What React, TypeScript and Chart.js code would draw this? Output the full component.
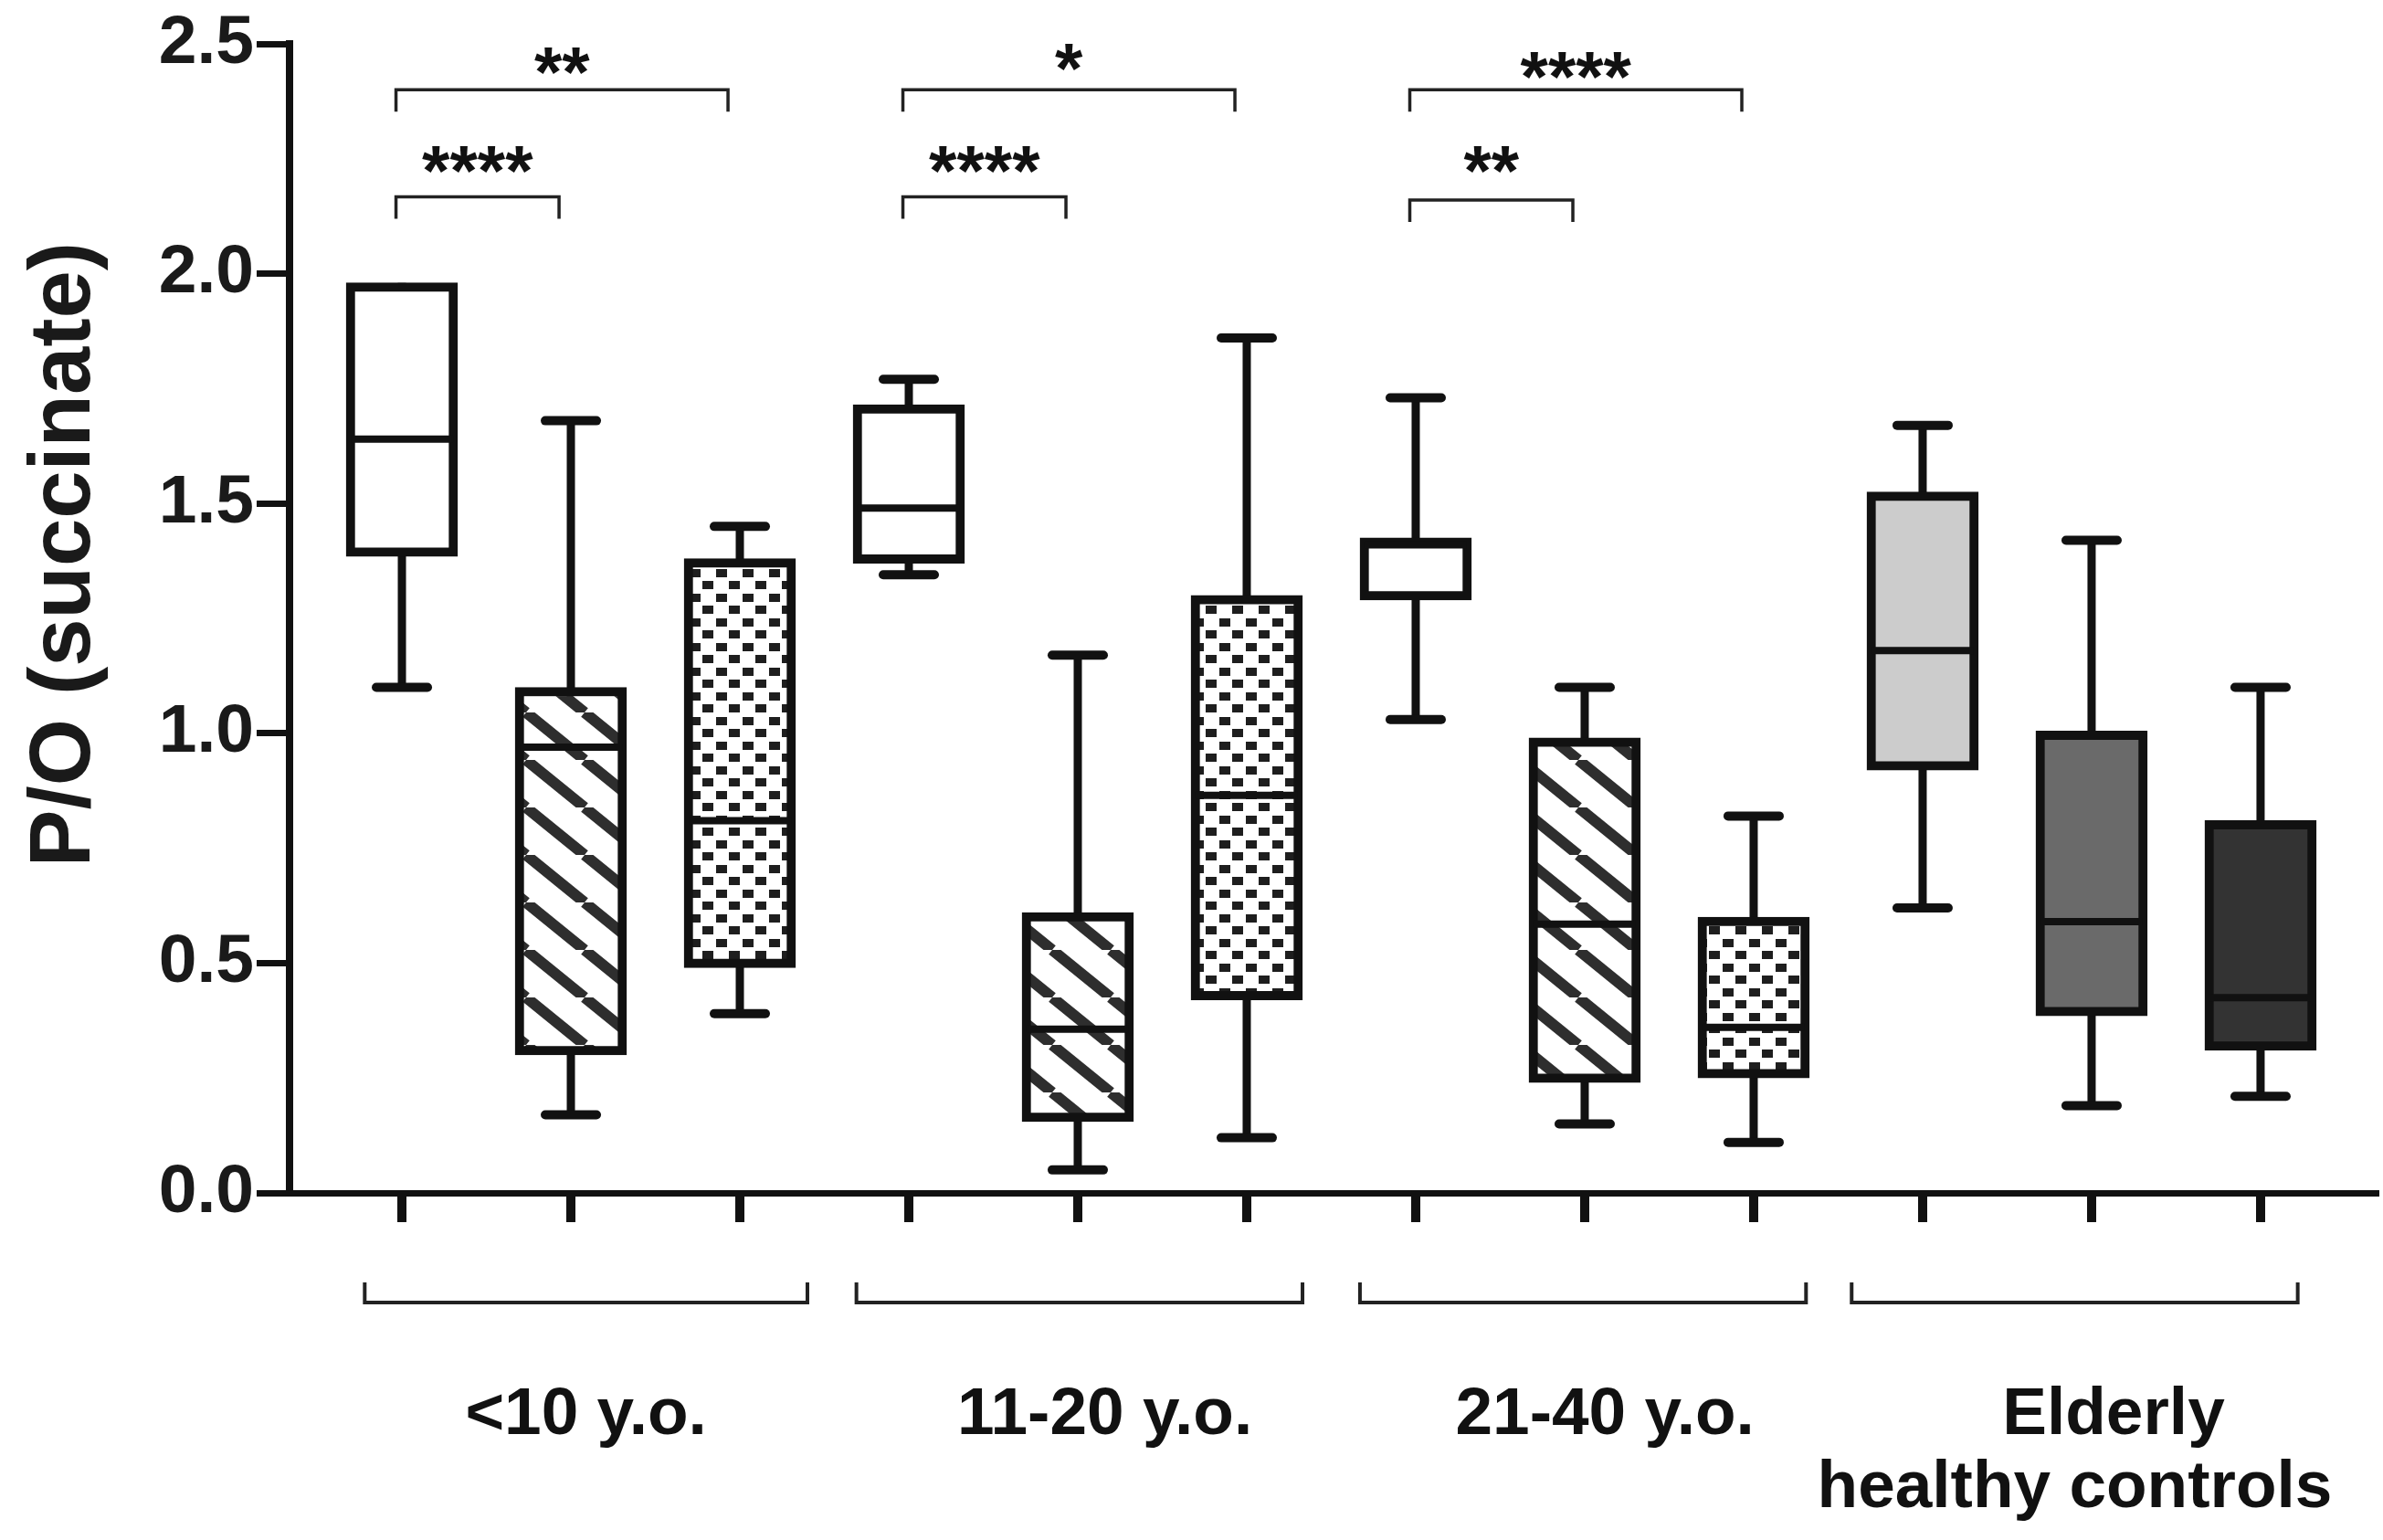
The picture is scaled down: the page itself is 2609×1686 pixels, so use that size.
import React, { useEffect, useRef } from 'react';
import { Chart, registerables } from 'chart.js';

Chart.register(...registerables);

// ---- data ----
const boxIndex = [0, 1, 2, 3, 4, 5, 6, 7, 8, 9, 10, 11];
const mins = [1.10, 0.17, 0.39, 1.345, 0.05, 0.12, 1.03, 0.15, 0.11, 0.62, 0.19, 0.21];
const q1s = [1.385, 0.30, 0.49, 1.37, 0.155, 0.42, 1.29, 0.24, 0.25, 0.92, 0.385, 0.31];
const medians = [1.64, 0.97, 0.81, 1.49, 0.356, 0.865, 1.41, 0.585, 0.36, 1.18, 0.59, 0.425];
const q3s = [1.98, 1.10, 1.38, 1.715, 0.61, 1.30, 1.425, 0.99, 0.60, 1.525, 1.005, 0.81];
const maxs = [1.98, 1.68, 1.45, 1.77, 1.17, 1.86, 1.73, 1.10, 0.82, 1.67, 1.42, 1.10];
const fillKinds = ['white', 'stripe', 'checker', 'white', 'stripe', 'checker', 'white', 'stripe', 'checker', '#cccccc', '#6a6a6a', '#333333'];

const yTickValues = [0, 0.5, 1.0, 1.5, 2.0, 2.5];
const yTitle = 'P/O (succinate)';

// significance brackets
const sigFrom = [0, 0, 3, 3, 6, 6];
const sigTo = [2, 1, 5, 4, 8, 7];
const sigLevel = [2.40, 2.167, 2.40, 2.167, 2.40, 2.16];
const sigTextLevel = [2.462, 2.247, 2.47, 2.247, 2.452, 2.247];
const sigLabels = ['**', '****', '*', '****', '****', '**'];

// group brackets (in box-index units) and labels
const groupFrom = [-0.22, 2.69, 5.67, 8.58];
const groupTo = [2.40, 5.33, 8.31, 11.22];
const groupLabelLines = [['<10 y.o.'], ['11-20 y.o.'], ['21-40 y.o.'], ['Elderly', 'healthy controls']];
const groupLabelCenters = [[1.09], [4.16], [7.12], [10.13, 9.9]];

const FONT = "'Liberation Sans', Arial, Helvetica, sans-serif";

function makeStripe(): CanvasPattern | string {
  const w = 64, h = 52;
  const c = document.createElement('canvas');
  c.width = w; c.height = h;
  const g = c.getContext('2d');
  if (!g) return '#fff';
  g.fillStyle = '#fff';
  g.fillRect(0, 0, w, h);
  g.strokeStyle = '#2e2e2e';
  g.lineWidth = 12;
  for (let k = -1; k <= 1; k++) {
    g.beginPath();
    g.moveTo(k * w, 0);
    g.lineTo((k + 1) * w, h);
    g.stroke();
  }
  const p = g.createPattern(c, 'repeat');
  return p || '#fff';
}

function makeChecker(): CanvasPattern | string {
  const w = 29, h = 27;
  const c = document.createElement('canvas');
  c.width = w; c.height = h;
  const g = c.getContext('2d');
  if (!g) return '#fff';
  g.fillStyle = '#fff';
  g.fillRect(0, 0, w, h);
  g.fillStyle = '#1e1e1e';
  g.fillRect(1, 2, 12, 9);
  g.fillRect(15, 15, 12, 9);
  const p = g.createPattern(c, 'repeat');
  return p || '#fff';
}

export default function App() {
  const ref = useRef<HTMLCanvasElement | null>(null);

  useEffect(() => {
    const canvas = ref.current;
    if (!canvas) return;
    const stripe = makeStripe();
    const checker = makeChecker();
    const bg = fillKinds.map((k) => (k === 'stripe' ? stripe : k === 'checker' ? checker : k));

    const boxPlugin = {
      id: 'boxExtras',
      beforeDatasetsDraw(chart: any) {
        const { ctx } = chart;
        const xs = chart.scales.x;
        const ys = chart.scales.y;
        ctx.save();
        ctx.strokeStyle = '#111';
        boxIndex.forEach((i) => {
          const x = xs.getPixelForValue(i);
          ctx.lineWidth = 9;
          ctx.lineCap = 'butt';
          ctx.beginPath();
          ctx.moveTo(x, ys.getPixelForValue(mins[i]));
          ctx.lineTo(x, ys.getPixelForValue(maxs[i]));
          ctx.stroke();
          ctx.lineCap = 'round';
          ctx.lineWidth = 10;
          const caps: number[] = [];
          if (q1s[i] - mins[i] > 0.01) caps.push(mins[i]);
          if (maxs[i] - q3s[i] > 0.01) caps.push(maxs[i]);
          caps.forEach((v) => {
            const y = ys.getPixelForValue(v);
            ctx.beginPath();
            ctx.moveTo(x - 28, y);
            ctx.lineTo(x + 28, y);
            ctx.stroke();
          });
        });
        ctx.restore();
      },
      afterDatasetsDraw(chart: any) {
        const { ctx } = chart;
        const xs = chart.scales.x;
        const ys = chart.scales.y;
        ctx.save();
        ctx.strokeStyle = '#111';
        ctx.lineWidth = 8;
        boxIndex.forEach((i) => {
          const x = xs.getPixelForValue(i);
          const y = ys.getPixelForValue(medians[i]);
          ctx.beginPath();
          ctx.moveTo(x - 56, y);
          ctx.lineTo(x + 56, y);
          ctx.stroke();
        });
        ctx.restore();
      },
      afterDraw(chart: any) {
        const { ctx } = chart;
        const xs = chart.scales.x;
        const ys = chart.scales.y;
        ctx.save();
        // significance brackets
        ctx.strokeStyle = '#222';
        ctx.lineWidth = 3.5;
        ctx.fillStyle = '#111';
        ctx.font = `bold 78px ${FONT}`;
        ctx.textAlign = 'center';
        ctx.textBaseline = 'alphabetic';
        sigFrom.forEach((f, k) => {
          const x1 = xs.getPixelForValue(f - 0.035);
          const x2 = xs.getPixelForValue(sigTo[k] - 0.07);
          const y = ys.getPixelForValue(sigLevel[k]);
          ctx.beginPath();
          ctx.moveTo(x1, y + 24);
          ctx.lineTo(x1, y);
          ctx.lineTo(x2, y);
          ctx.lineTo(x2, y + 24);
          ctx.stroke();
          const m = ctx.measureText(sigLabels[k]);
          const cy = ys.getPixelForValue(sigTextLevel[k]);
          const base = cy + (m.actualBoundingBoxAscent - m.actualBoundingBoxDescent) / 2;
          ctx.fillText(sigLabels[k], (x1 + x2) / 2, base);
        });
        // group brackets
        const gy = 1426;
        ctx.lineWidth = 4;
        ctx.strokeStyle = '#222';
        groupFrom.forEach((f, k) => {
          const x1 = xs.getPixelForValue(f);
          const x2 = xs.getPixelForValue(groupTo[k]);
          ctx.beginPath();
          ctx.moveTo(x1, gy - 22);
          ctx.lineTo(x1, gy);
          ctx.lineTo(x2, gy);
          ctx.lineTo(x2, gy - 22);
          ctx.stroke();
        });
        // group labels
        ctx.font = `bold 73px ${FONT}`;
        ctx.fillStyle = '#111';
        const baselines = [1570, 1650];
        groupLabelLines.forEach((lines, k) => {
          lines.forEach((t, j) => {
            ctx.fillText(t, xs.getPixelForValue(groupLabelCenters[k][j]), baselines[j]);
          });
        });
        // y title
        ctx.translate(72, 607);
        ctx.rotate(-Math.PI / 2);
        ctx.font = `bold 94px ${FONT}`;
        ctx.textBaseline = 'middle';
        ctx.fillStyle = '#1a1a1a';
        ctx.fillText(yTitle, 0, 0);
        ctx.restore();
      },
    };

    const chart = new Chart(canvas, {
      type: 'bar',
      data: {
        datasets: [
          {
            data: boxIndex.map((i) => ({ x: i, y: [q1s[i], q3s[i]] })) as any,
            backgroundColor: bg as any,
            borderColor: '#111',
            borderWidth: 10,
            borderSkipped: false,
            barThickness: 122,
          } as any,
        ],
      },
      options: {
        responsive: false,
        animation: false,
        devicePixelRatio: 1,
        layout: { padding: { left: 0, top: 43, right: 9, bottom: 0 } },
        plugins: { legend: { display: false }, tooltip: { enabled: false }, title: { display: false } },
        scales: {
          x: {
            type: 'linear',
            min: -0.665,
            max: 11.676,
            offset: false,
            afterBuildTicks: (scale: any) => {
              scale.ticks = boxIndex.map((v) => ({ value: v }));
            },
            afterFit: (scale: any) => {
              scale.height = 380;
            },
            ticks: { display: false },
            grid: {
              offset: false,
              drawOnChartArea: false,
              drawTicks: true,
              tickLength: 32,
              lineWidth: 10,
              color: '#111',
            },
            border: { display: true, width: 7, color: '#111' },
          },
          y: {
            type: 'linear',
            min: 0,
            max: 2.5,
            afterBuildTicks: (scale: any) => {
              scale.ticks = yTickValues.map((v) => ({ value: v }));
            },
            afterFit: (scale: any) => {
              scale.width = 317;
            },
            ticks: {
              callback: (v: any) => Number(v).toFixed(1),
              font: { family: FONT, size: 75, weight: 'bold' },
              color: '#1a1a1a',
              padding: 3,
            },
            grid: {
              drawOnChartArea: false,
              drawTicks: true,
              tickLength: 36,
              lineWidth: 7,
              color: '#111',
            },
            border: { display: true, width: 8, color: '#111' },
          },
        },
      } as any,
      plugins: [boxPlugin],
    });
    return () => chart.destroy();
  }, []);

  return (
    <div style={{ position: 'fixed', left: 0, top: 0, width: 2609, height: 1686, background: '#fff' }}>
      <canvas ref={ref} width={2609} height={1686} style={{ display: 'block', width: 2609, height: 1686 }} />
    </div>
  );
}
